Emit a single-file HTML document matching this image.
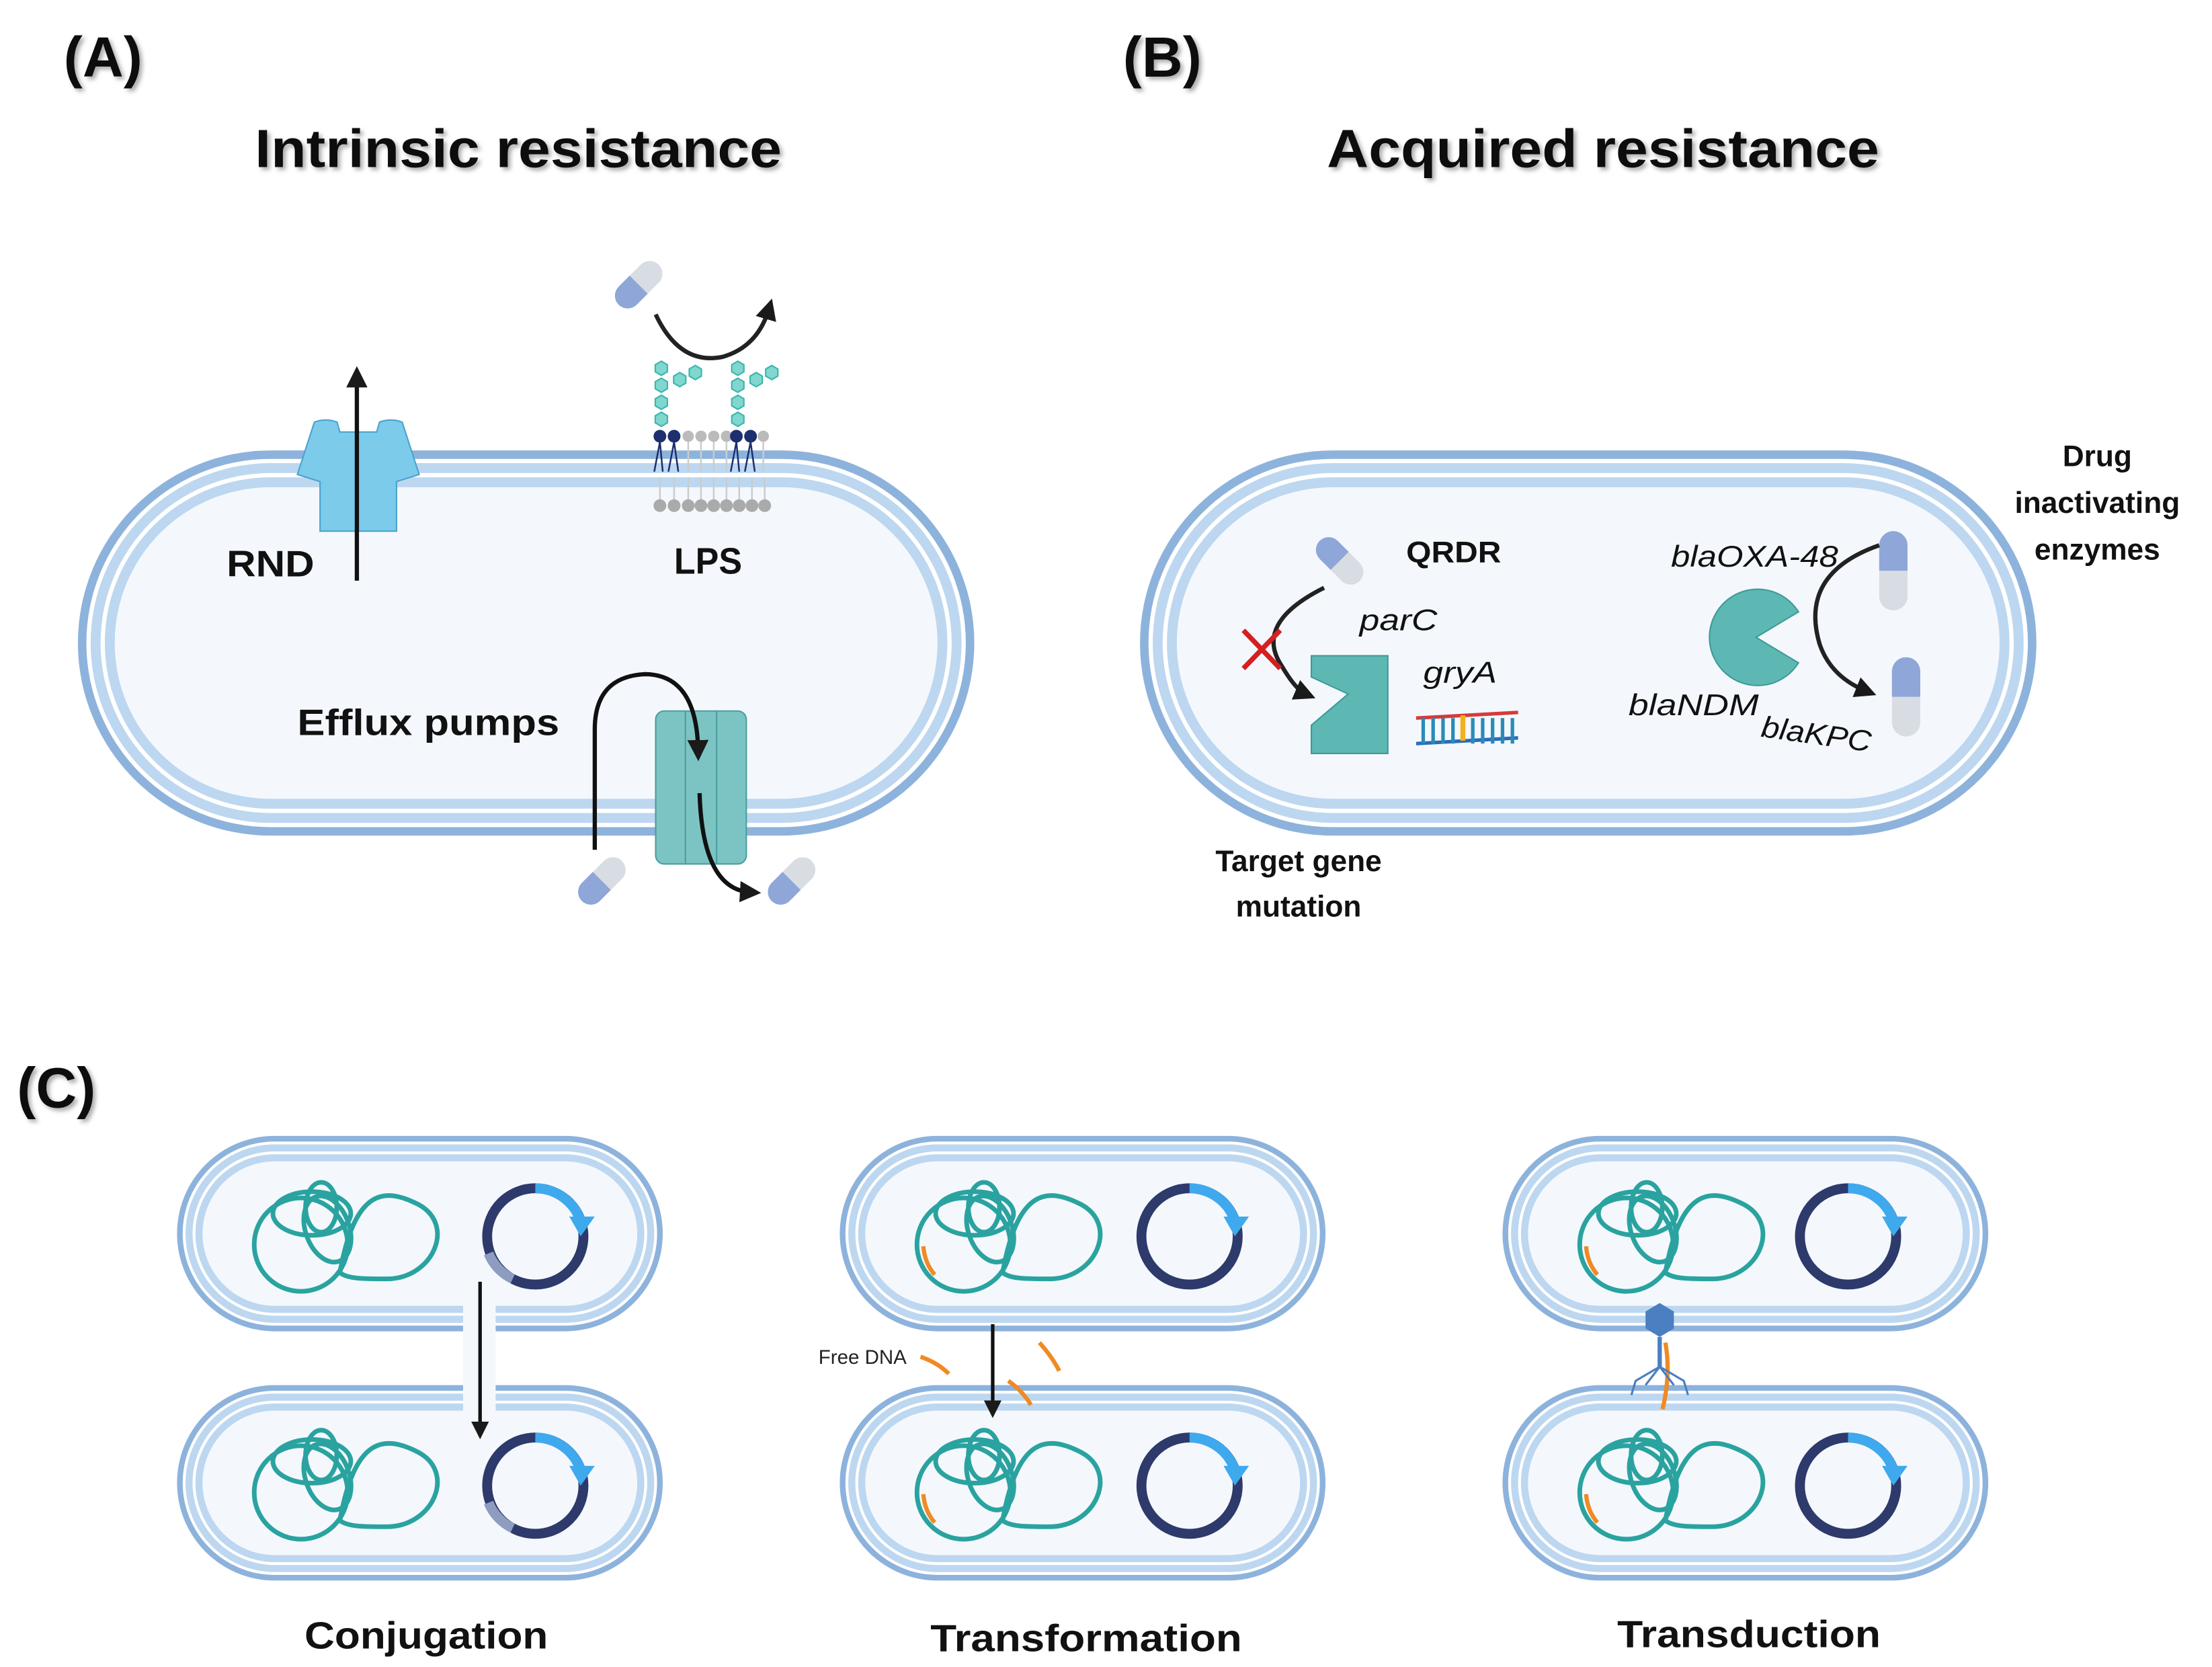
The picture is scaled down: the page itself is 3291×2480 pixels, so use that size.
<!DOCTYPE html>
<html><head><meta charset="utf-8"><style>html,body{margin:0;padding:0;background:#fff}svg{display:block}text{font-family:"Liberation Sans",sans-serif}</style></head><body>
<svg width="3291" height="2480" viewBox="0 0 1562 1177" xmlns="http://www.w3.org/2000/svg">
<defs>
<marker id="ah" viewBox="0 0 10 10" refX="5" refY="5" markerWidth="5" markerHeight="5" orient="auto"><path d="M0,0 L10,5 L0,10 z" fill="#1a1a1a"/></marker>
<filter id="sh" x="-5%" y="-20%" width="110%" height="150%"><feDropShadow dx="2" dy="2" stdDeviation="1.5" flood-color="#888" flood-opacity="0.7"/></filter>
<g id="capsule"><rect x="-9" y="-20" width="18" height="40" rx="9" fill="#d8dde3"/><path d="M-9,0 V-11 A9,9 0 0 1 9,-11 V0 z" fill="#8ea6d8"/></g>
<g id="chrom" fill="none" stroke="#2aa3a0" stroke-width="3">
<ellipse cx="-25" cy="8" rx="30" ry="30"/><ellipse cx="-18" cy="-12" rx="25" ry="14"/><ellipse cx="-8" cy="-2" rx="14" ry="22" transform="rotate(-20 -8 -2)"/><ellipse cx="-12" cy="-16" rx="10" ry="16"/><path d="M0,26 C10,-30 30,-28 50,-18 C75,-5 60,30 30,30 C15,30 5,30 0,26"/>
</g>
<g id="plasmid"><circle r="34" fill="none" stroke="#2d3a6b" stroke-width="7"/><path d="M0,-34 A34,34 0 0 1 32,-11" fill="none" stroke="#3fa9ee" stroke-width="7"/><path d="M24,-14 L42,-14 L32,0 z" fill="#3fa9ee"/></g>
<g id="hex"><polygon points="0,-5 4.3,-2.5 4.3,2.5 0,5 -4.3,2.5 -4.3,-2.5" fill="#7fd7cf" stroke="#3cb5aa" stroke-width="1"/></g>
<g id="cellC">
<rect x="0" y="0" width="343" height="138" rx="69" fill="#8db3dc"/>
<rect x="4" y="4" width="335" height="130" rx="65" fill="#fff"/>
<rect x="6" y="6" width="331" height="126" rx="63" fill="#bdd7f0"/>
<rect x="11" y="11" width="321" height="116" rx="58" fill="#fff"/>
<rect x="13" y="13" width="317" height="112" rx="56" fill="#bdd7f0"/>
<rect x="18" y="18" width="307" height="102" rx="51" fill="#f4f8fd"/>
</g>
</defs>

<!-- Headers -->
<text x="45" y="54" font-size="40" font-weight="bold" fill="#111" filter="url(#sh)">(A)</text>
<text x="793" y="54" font-size="40" font-weight="bold" fill="#111" filter="url(#sh)">(B)</text>
<text x="12" y="782" font-size="40" font-weight="bold" fill="#111" filter="url(#sh)">(C)</text>
<text x="366" y="118" font-size="38" font-weight="bold" text-anchor="middle" fill="#111" filter="url(#sh)" textLength="372" lengthAdjust="spacingAndGlyphs">Intrinsic resistance</text>
<text x="1132" y="118" font-size="38" font-weight="bold" text-anchor="middle" fill="#111" filter="url(#sh)" textLength="390" lengthAdjust="spacingAndGlyphs">Acquired resistance</text>

<!-- Cell A -->
<g>
<rect x="55" y="318" width="633" height="272" rx="136" fill="#8db3dc"/>
<rect x="61" y="324" width="621" height="260" rx="130" fill="#fff"/>
<rect x="64" y="327" width="615" height="254" rx="127" fill="#bdd7f0"/>
<rect x="71" y="334" width="601" height="240" rx="120" fill="#fff"/>
<rect x="74" y="337" width="595" height="234" rx="117" fill="#bdd7f0"/>
<rect x="81" y="344" width="581" height="220" rx="110" fill="#f4f8fd"/>
</g>
<!-- Cell B -->
<g>
<rect x="805" y="318" width="633" height="272" rx="136" fill="#8db3dc"/>
<rect x="811" y="324" width="621" height="260" rx="130" fill="#fff"/>
<rect x="814" y="327" width="615" height="254" rx="127" fill="#bdd7f0"/>
<rect x="821" y="334" width="601" height="240" rx="120" fill="#fff"/>
<rect x="824" y="337" width="595" height="234" rx="117" fill="#bdd7f0"/>
<rect x="831" y="344" width="581" height="220" rx="110" fill="#f4f8fd"/>
</g>

<!-- RND -->
<path d="M222,298 Q230,295 238,298 L240,305 L266,305 L268,298 Q276,295 284,298 L296,335 L280,340 L280,375 L226,375 L226,340 L210,335 z" fill="#7dcbeb" stroke="#4aa3cc" stroke-width="1"/>
<line x1="253" y1="303" x2="253" y2="375" stroke="#4aa3cc" stroke-width="1"/>
<line x1="252" y1="410" x2="252" y2="266" stroke="#111" stroke-width="3" marker-end="url(#ah)"/>
<text x="160" y="407" font-size="26" font-weight="bold" fill="#111" textLength="62" lengthAdjust="spacingAndGlyphs">RND</text>

<!-- LPS -->
<g>
<use href="#hex" x="467" y="260" transform="translate(0,0)"/><use href="#hex" x="467" y="272"/><use href="#hex" x="467" y="284"/><use href="#hex" x="467" y="296"/><use href="#hex" x="480" y="268"/><use href="#hex" x="491" y="263"/>
<use href="#hex" x="521" y="260"/><use href="#hex" x="521" y="272"/><use href="#hex" x="521" y="284"/><use href="#hex" x="521" y="296"/><use href="#hex" x="534" y="268"/><use href="#hex" x="545" y="263"/>
<g fill="#bbb"><circle cx="486" cy="308" r="4"/><circle cx="495" cy="308" r="4"/><circle cx="504" cy="308" r="4"/><circle cx="513" cy="308" r="4"/><circle cx="539" cy="308" r="4"/></g>
<g fill="#1d2f6f"><circle cx="466" cy="308" r="4.5"/><circle cx="476" cy="308" r="4.5"/><circle cx="520" cy="308" r="4.5"/><circle cx="530" cy="308" r="4.5"/></g>
<g stroke="#1d2f6f" stroke-width="1.2" fill="none"><path d="M466,312 L462,333 M466,312 L468,333 M476,312 L472,333 M476,312 L479,333 M520,312 L516,333 M520,312 L522,333 M530,312 L526,333 M530,312 L533,333"/></g>
<g stroke="#ccc" stroke-width="1.2"><path d="M486,312V333 M495,312V333 M504,312V333 M513,312V333 M539,312V333 M466,337V353 M476,337V353 M486,337V353 M495,337V353 M504,337V353 M513,337V353 M522,337V353 M531,337V353 M540,337V353"/></g>
<g fill="#aaa"><circle cx="466" cy="357" r="4.5"/><circle cx="476" cy="357" r="4.5"/><circle cx="486" cy="357" r="4.5"/><circle cx="495" cy="357" r="4.5"/><circle cx="504" cy="357" r="4.5"/><circle cx="513" cy="357" r="4.5"/><circle cx="522" cy="357" r="4.5"/><circle cx="531" cy="357" r="4.5"/><circle cx="540" cy="357" r="4.5"/></g>
</g>
<use href="#capsule" transform="translate(451,201) rotate(-135)"/>
<path d="M463,222 Q480,258 510,252 Q535,245 543,218" fill="none" stroke="#222" stroke-width="3" marker-end="url(#ah)"/>
<text x="476" y="405" font-size="26" font-weight="bold" fill="#111" textLength="48" lengthAdjust="spacingAndGlyphs">LPS</text>

<!-- Efflux pump -->
<rect x="463" y="502" width="64" height="108" rx="6" fill="#7cc4c4" stroke="#4a9e9e" stroke-width="1"/>
<line x1="484" y1="502" x2="484" y2="610" stroke="#4a9e9e"/><line x1="506" y1="502" x2="506" y2="610" stroke="#4a9e9e"/>
<path d="M420,600 V515 Q420,478 455,476 Q492,476 493,530" fill="none" stroke="#111" stroke-width="3" marker-end="url(#ah)"/>
<path d="M494,560 Q496,628 530,630" fill="none" stroke="#111" stroke-width="3" marker-end="url(#ah)"/>
<use href="#capsule" transform="translate(425,622) rotate(-135)"/>
<use href="#capsule" transform="translate(559,622) rotate(-135)"/>
<text x="210" y="519" font-size="26" font-weight="bold" fill="#111" textLength="185" lengthAdjust="spacingAndGlyphs">Efflux pumps</text>

<!-- B contents -->
<use href="#capsule" transform="translate(946,396) rotate(-45)"/>
<text x="993" y="397" font-size="21" font-weight="bold" fill="#111" textLength="67" lengthAdjust="spacingAndGlyphs">QRDR</text>
<path d="M935,415 Q885,440 905,470 Q915,487 922,490" fill="none" stroke="#222" stroke-width="3" marker-end="url(#ah)"/>
<path d="M878,445 L904,472 M904,445 L878,472" stroke="#d42020" stroke-width="3.5"/>
<path d="M926,463 H980 V532 H926 V512 L952,490 L926,478 z" fill="#5db8b4" stroke="#3f9a96" stroke-width="1"/>
<text x="960" y="445" font-size="21" font-style="italic" fill="#111" textLength="55" lengthAdjust="spacingAndGlyphs">parC</text>
<text x="1005" y="482" font-size="21" font-style="italic" fill="#111" textLength="52" lengthAdjust="spacingAndGlyphs">gryA</text>
<g stroke-width="2.5">
<line x1="1000" y1="507" x2="1072" y2="503" stroke="#d63a3a"/>
<line x1="1000" y1="525" x2="1072" y2="521" stroke="#2a6db8"/>
<path d="M1005,507V525 M1012,507V525 M1019,507V525 M1026,507V525 M1040,507V525 M1047,507V525 M1054,507V525 M1061,507V525 M1068,507V525" stroke="#2a8bb8"/>
<path d="M1033,505V523" stroke="#f2b11e" stroke-width="3.5"/>
</g>
<path d="M1240,450 L1270,432 A34,34 0 1 0 1270,468 z" fill="#5db8b4" stroke="#3f9a96" stroke-width="1"/>
<g transform="translate(1337,403)"><rect x="-10" y="-28" width="20" height="56" rx="10" fill="#d8dde3"/><path d="M-10,0 V-18 A10,10 0 0 1 10,-18 V0 z" fill="#8ea6d8"/></g>
<g transform="translate(1346,492)"><rect x="-10" y="-28" width="20" height="56" rx="10" fill="#d8dde3"/><path d="M-10,0 V-18 A10,10 0 0 1 10,-18 V0 z" fill="#8ea6d8"/></g>
<path d="M1327,385 Q1270,405 1285,455 Q1293,478 1318,488" fill="none" stroke="#222" stroke-width="3" marker-end="url(#ah)"/>
<text x="1180" y="400" font-size="21" font-style="italic" fill="#111" textLength="118" lengthAdjust="spacingAndGlyphs">blaOXA-48</text>
<text x="1150" y="505" font-size="21" font-style="italic" fill="#111" textLength="92" lengthAdjust="spacingAndGlyphs">blaNDM</text>
<text x="1243" y="520" font-size="21" font-style="italic" fill="#111" transform="rotate(8 1243 520)" textLength="78" lengthAdjust="spacingAndGlyphs">blaKPC</text>
<g font-size="21" font-weight="bold" fill="#111" text-anchor="middle">
<text x="1481" y="329">Drug</text><text x="1481" y="362">inactivating</text><text x="1481" y="395">enzymes</text>
<text x="917" y="615">Target gene</text><text x="917" y="647">mutation</text>
</g>

<!-- C cells -->
<use href="#cellC" x="125" y="802"/><use href="#cellC" x="125" y="978"/>
<use href="#cellC" x="593" y="802"/><use href="#cellC" x="593" y="978"/>
<use href="#cellC" x="1061" y="802"/><use href="#cellC" x="1061" y="978"/>
<!-- conjugation bridge -->
<rect x="327" y="915" width="23" height="83" fill="#f4f8fd"/>
<line x1="339" y1="905" x2="339" y2="1010" stroke="#111" stroke-width="2.5" marker-end="url(#ah)"/>

<g transform="translate(0,0)">
<use href="#chrom" transform="translate(240,870) scale(1.1)"/><use href="#chrom" transform="translate(240,1045) scale(1.1)"/>
<use href="#chrom" transform="translate(708,870) scale(1.1)"/><use href="#chrom" transform="translate(708,1045) scale(1.1)"/>
<use href="#chrom" transform="translate(1176,870) scale(1.1)"/><use href="#chrom" transform="translate(1176,1045) scale(1.1)"/>
</g>
<use href="#plasmid" x="378" y="873"/><use href="#plasmid" x="378" y="1049"/>
<use href="#plasmid" x="840" y="873"/><use href="#plasmid" x="840" y="1049"/>
<use href="#plasmid" x="1305" y="873"/><use href="#plasmid" x="1305" y="1049"/>
<path d="M345,885 A34,34 0 0 0 362,903" fill="none" stroke="#8e9cc0" stroke-width="7"/>
<path d="M345,1061 A34,34 0 0 0 362,1079" fill="none" stroke="#8e9cc0" stroke-width="7"/>
<g fill="none" stroke="#f08a24" stroke-width="3">
<path d="M652,880 Q653,892 660,900"/><path d="M652,1055 Q653,1067 660,1075"/>
<path d="M1120,880 Q1121,892 1128,900"/><path d="M1120,1055 Q1121,1067 1128,1075"/>
<path d="M650,958 Q662,962 670,970"/><path d="M712,975 Q722,982 728,992"/><path d="M734,948 Q743,958 748,968"/>
<path d="M1176,948 Q1180,970 1174,995"/>
</g>
<line x1="701" y1="935" x2="701" y2="995" stroke="#111" stroke-width="2.5" marker-end="url(#ah)"/>
<text x="578" y="963" font-size="14" fill="#222">Free DNA</text>
<polygon points="1172,920 1182,926 1182,938 1172,944 1162,938 1162,926" fill="#4a7fc1"/>
<line x1="1172" y1="944" x2="1172" y2="965" stroke="#4a7fc1" stroke-width="3"/>
<g stroke="#4a7fc1" stroke-width="1.5" fill="none"><path d="M1172,965 L1155,975 L1152,985 M1172,965 L1162,978 M1172,965 L1182,978 M1172,965 L1189,975 L1192,985"/></g>

<g font-size="27" font-weight="bold" fill="#111" text-anchor="middle">
<text x="301" y="1164" textLength="172" lengthAdjust="spacingAndGlyphs">Conjugation</text>
<text x="767" y="1166" textLength="220" lengthAdjust="spacingAndGlyphs">Transformation</text>
<text x="1235" y="1163" textLength="186" lengthAdjust="spacingAndGlyphs">Transduction</text>
</g>
</svg>
</body></html>
